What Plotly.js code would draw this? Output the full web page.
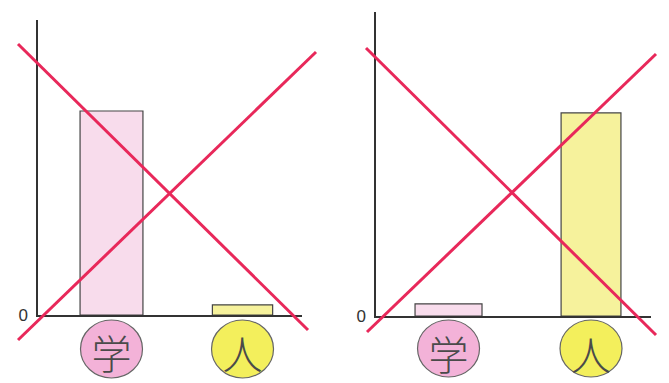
<!DOCTYPE html>
<html><head><meta charset="utf-8">
<script src="https://cdn.plot.ly/plotly-3.0.1.min.js"></script>
<style>html,body{margin:0;padding:0;background:#fff;}#c{width:669px;height:383px;}</style>
</head><body><div id="c"></div>
<script>
const categories = ['学', '人'];
const leftValues = [10, 0.5];
const rightValues = [0.6, 10];
const tickLabels = ['学', '人'];
const barColors = ['#f8dcec', '#f6f29c'];
const circleColors = ['#f3b2d8', '#f3ef5c'];

const W = 669, H = 383;
const px = v => v / W, py = v => 1 - v / H;

const axisCommon = {
  showgrid: false, zeroline: false, showline: true, linecolor: '#333', linewidth: 1.6,
  ticks: '', fixedrange: true
};
const xCommon = Object.assign({}, axisCommon, {
  type: 'linear', tickmode: 'array', tickvals: [0, 1], ticktext: tickLabels,
  tickfont: {family: 'Noto Sans CJK JP', size: 40, color: '#4a4a4a', weight: 300}, ticklabelstandoff: 4
});
const yCommon = Object.assign({}, axisCommon, {
  tickmode: 'array', tickvals: [0], ticktext: ['0'],
  tickfont: {family: 'Liberation Sans', size: 17, color: '#333'}, ticklabelstandoff: 5
});

const traces = [
  {type: 'bar', x: [0, 1], y: leftValues, width: [0.48, 0.46], xaxis: 'x', yaxis: 'y',
   marker: {color: barColors, line: {color: '#444', width: 1.2}}, hoverinfo: 'skip'},
  {type: 'bar', x: [0, 1], y: rightValues, width: [0.47, 0.42], xaxis: 'x2', yaxis: 'y2',
   marker: {color: barColors, line: {color: '#444', width: 1.2}}, hoverinfo: 'skip'}
];

const shapes = [];
[['x', 320, 378], ['x2', 320, 377]].forEach(([xr, top, bot]) => {
  categories.forEach((c, i) => {
    shapes.push({type: 'circle', layer: 'below', xref: xr, yref: 'paper',
      xsizemode: 'pixel', xanchor: i, x0: -31, x1: 31,
      y0: py(bot), y1: py(top),
      fillcolor: circleColors[i], line: {color: '#666', width: 1.2}});
  });
});
// red cross lines
const crossLines = [
  [18, 44, 308, 330], [18, 340, 316, 52],
  [366, 48, 656, 335], [367, 332, 656, 54]
];
crossLines.forEach(l => shapes.push({type: 'line', layer: 'above', xref: 'paper', yref: 'paper',
  x0: px(l[0]), y0: py(l[1]), x1: px(l[2]), y1: py(l[3]),
  line: {color: '#e8285a', width: 3}}));

const layout = {
  width: W, height: H, margin: {l: 0, r: 0, t: 0, b: 0},
  paper_bgcolor: '#fff', plot_bgcolor: 'rgba(0,0,0,0)', showlegend: false, bargap: 0,
  xaxis: Object.assign({}, xCommon, {domain: [px(38), px(302)], range: [-0.561, 1.454], anchor: 'y'}),
  yaxis: Object.assign({}, yCommon, {domain: [py(315), py(20)], range: [0, 14.46], anchor: 'x'}),
  xaxis2: Object.assign({}, xCommon, {domain: [px(376), px(651)], range: [-0.509, 1.421], anchor: 'y2'}),
  yaxis2: Object.assign({}, yCommon, {domain: [py(316), py(12)], range: [0, 14.97], anchor: 'x2'}),
  shapes: shapes
};
Plotly.newPlot('c', traces, layout, {staticPlot: true});
</script></body></html>
